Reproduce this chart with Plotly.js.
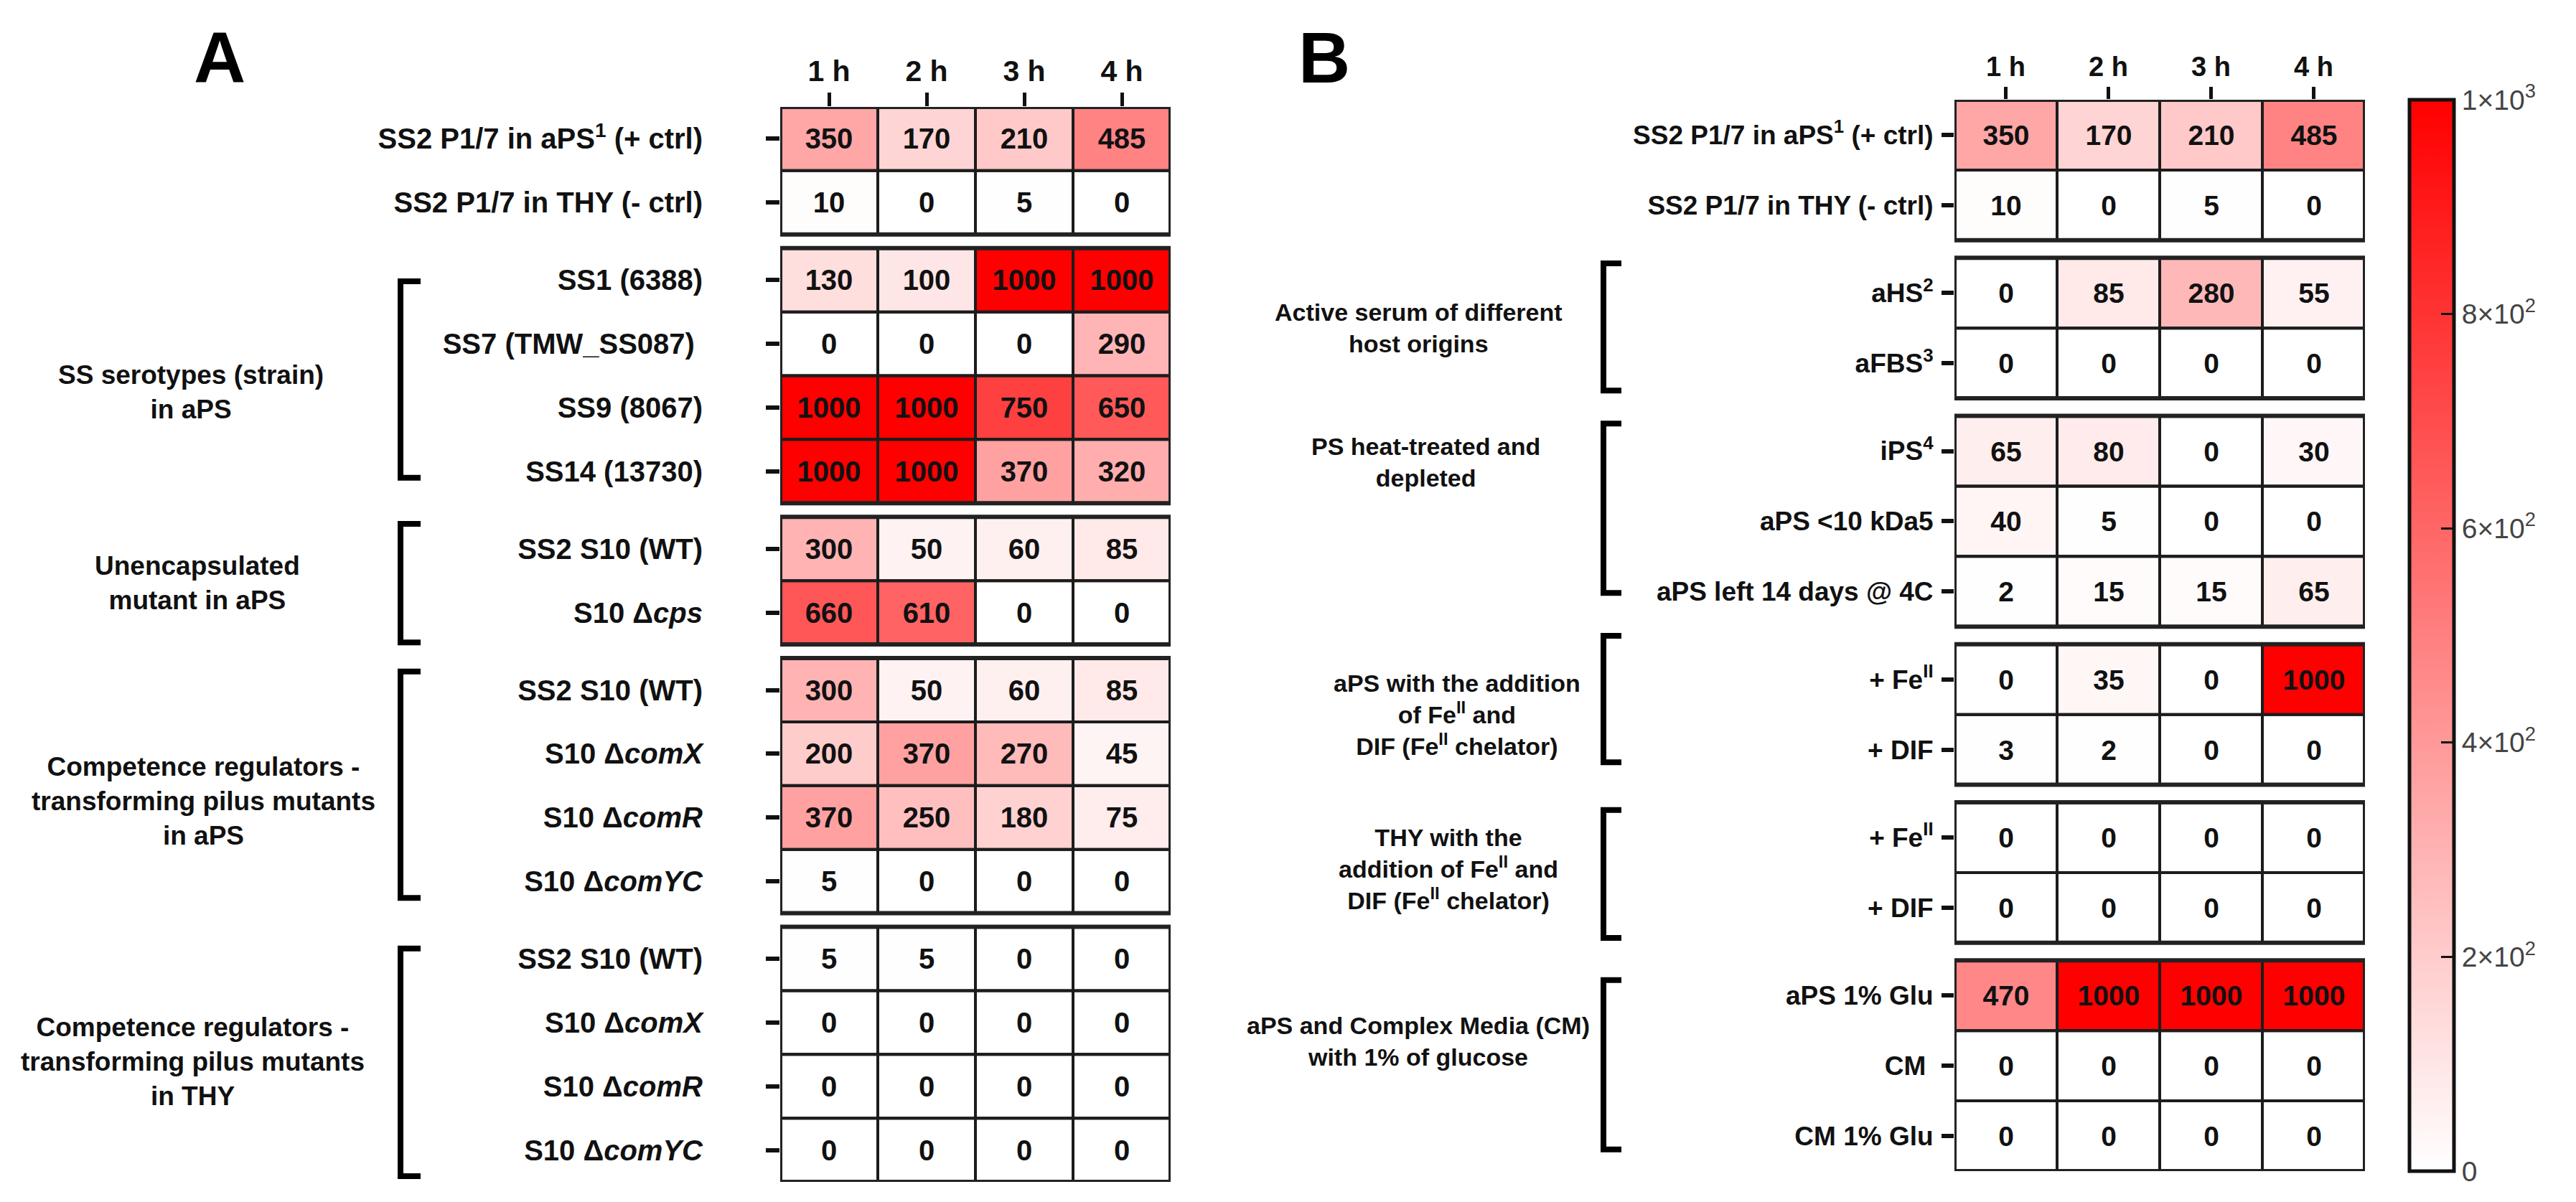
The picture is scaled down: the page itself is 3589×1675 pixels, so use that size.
<!DOCTYPE html>
<html>
<head>
<meta charset="utf-8">
<script src="https://cdn.plot.ly/plotly-3.0.1.min.js"></script>
<style>html,body{margin:0;padding:0;background:#fff;}#chart{width:3589px;height:1675px;}</style>
</head>
<body>
<div id="chart"></div>
<script>
// ---------------- DATA ----------------
const hours = ['1 h', '2 h', '3 h', '4 h'];

const labelsA = [
  'SS2 P1/7 in aPS<sup>1</sup> (+ ctrl)', 'SS2 P1/7 in THY (- ctrl)',
  'SS1 (6388)', 'SS7 (TMW_SS087) ', 'SS9 (8067)', 'SS14 (13730)',
  'SS2 S10 (WT)', 'S10 Δ<i>cps</i>',
  'SS2 S10 (WT)', 'S10 Δ<i>comX</i>', 'S10 Δ<i>comR</i>', 'S10 Δ<i>comYC</i>',
  'SS2 S10 (WT)', 'S10 Δ<i>comX</i>', 'S10 Δ<i>comR</i>', 'S10 Δ<i>comYC</i>'
];
const valuesA = [
  [350, 170, 210, 485],
  [10, 0, 5, 0],
  [130, 100, 1000, 1000],
  [0, 0, 0, 290],
  [1000, 1000, 750, 650],
  [1000, 1000, 370, 320],
  [300, 50, 60, 85],
  [660, 610, 0, 0],
  [300, 50, 60, 85],
  [200, 370, 270, 45],
  [370, 250, 180, 75],
  [5, 0, 0, 0],
  [5, 5, 0, 0],
  [0, 0, 0, 0],
  [0, 0, 0, 0],
  [0, 0, 0, 0]
];
const groupSizesA = [2, 4, 2, 4, 4];
const groupTitlesA = [
  null,
  'SS serotypes (strain)<br>in aPS',
  'Unencapsulated<br>mutant in aPS',
  'Competence regulators -<br>transforming pilus mutants<br>in aPS',
  'Competence regulators -<br>transforming pilus mutants<br>in THY'
];

const labelsB = [
  'SS2 P1/7 in aPS<sup>1</sup> (+ ctrl)', 'SS2 P1/7 in THY (- ctrl)',
  'aHS<sup>2</sup>', 'aFBS<sup>3</sup>',
  'iPS<sup>4</sup>', 'aPS &lt;10 kDa5', 'aPS left 14 days @ 4C',
  '+ Fe<sup>II</sup>', '+ DIF',
  '+ Fe<sup>II</sup>', '+ DIF',
  'aPS 1% Glu', 'CM ', 'CM 1% Glu'
];
const valuesB = [
  [350, 170, 210, 485],
  [10, 0, 5, 0],
  [0, 85, 280, 55],
  [0, 0, 0, 0],
  [65, 80, 0, 30],
  [40, 5, 0, 0],
  [2, 15, 15, 65],
  [0, 35, 0, 1000],
  [3, 2, 0, 0],
  [0, 0, 0, 0],
  [0, 0, 0, 0],
  [470, 1000, 1000, 1000],
  [0, 0, 0, 0],
  [0, 0, 0, 0]
];
const groupSizesB = [2, 2, 3, 2, 2, 3];
const groupTitlesB = [
  null,
  'Active serum of different<br>host origins',
  'PS heat-treated and<br>depleted',
  'aPS with the addition<br>of Fe<sup>II</sup> and<br>DIF (Fe<sup>II</sup> chelator)',
  'THY with the<br>addition of Fe<sup>II</sup> and<br>DIF (Fe<sup>II</sup> chelator)',
  'aPS and Complex Media (CM)<br>with 1% of glucose'
];

const colorTickVals = [0, 200, 400, 600, 800, 1000];
const colorTickText = ['0', '2×10<sup>2</sup>', '4×10<sup>2</sup>', '6×10<sup>2</sup>', '8×10<sup>2</sup>', '1×10<sup>3</sup>'];

// ---------------- LAYOUT (pixels) ----------------
const W = 3589, H = 1675;
const FONT = 'Liberation Sans, Arial, Helvetica, sans-serif';
const px = v => v / W;
const py = v => 1 - v / H;

const panels = [
  {
    name: 'A', xa: 'x', ya: 'y', xKey: 'xaxis', yKey: 'yaxis',
    labels: labelsA, values: valuesA, sizes: groupSizesA, titles: groupTitlesA,
    left: 1087, right: 1631, top: 149, bottom: 1647, gap: 0.215,
    labelSize: 40, cellSize: 40, titleSize: 37, standoff: 80, ticklen: 19,
    bracketX: 558, serifX: 586,
    titleX: [0, 266, 275, 283, 268],
    titleShift: [0, -23, -3, -22, -10],
    bracketInset: [[0, 0], [0.52, 0.4], [0.11, 0.03], [0.21, 0.24], [0.34, 0.09]]
  },
  {
    name: 'B', xa: 'x2', ya: 'y2', xKey: 'xaxis2', yKey: 'yaxis2',
    labels: labelsB, values: valuesB, sizes: groupSizesB, titles: groupTitlesB,
    left: 2723, right: 3295, top: 139, bottom: 1632, gap: 0.25,
    labelSize: 37, cellSize: 39, titleSize: 34, standoff: 4, ticklen: 17,
    bracketX: 2234, serifX: 2259,
    titleX: [0, 1976, 1987, 2030, 2018, 1976],
    titleShift: [0, 0, 82, 0, 5, 34],
    bracketInset: [[0, 0], [0.08, 0.11], [0.11, 0.48], [-0.12, 0.32], [0.11, 0.07], [0.28, 0.31]]
  }
];

const traces = [];
const shapes = [];
const annotations = [];
const layout = {
  width: W, height: H,
  margin: {l: 0, r: 0, t: 0, b: 0},
  paper_bgcolor: '#ffffff', plot_bgcolor: '#ffffff',
  font: {family: FONT, color: '#111111'},
  showlegend: false,
  coloraxis: {
    cmin: 0, cmax: 1000,
    colorscale: [[0, '#ffffff'], [1, '#ff0000']],
    colorbar: {
      x: px(3357), xanchor: 'left', xpad: 0, ypad: 0,
      y: py((139 + 1632) / 2), yanchor: 'middle',
      len: (1632 - 139) / H, lenmode: 'fraction',
      thickness: 62, thicknessmode: 'pixels',
      outlinewidth: 5, outlinecolor: '#111111',
      ticks: 'inside', ticklen: 20, tickwidth: 3, tickcolor: '#111111',
      tickvals: colorTickVals, ticktext: colorTickText,
      tickfont: {family: FONT, size: 39, color: '#444444'}
    }
  }
};

panels.forEach(p => {
  // row centres in data units (rows of height 1, groups separated by a gap)
  const centers = [];
  const groups = [];
  let cursor = 0;
  p.sizes.forEach((n, gi) => {
    const start = cursor;
    for (let i = 0; i < n; i++) { centers.push(cursor + 0.5); cursor += 1; }
    groups.push({start: start, end: cursor});
    if (gi < p.sizes.length - 1) cursor += p.gap;
  });
  const total = cursor;

  // heatmap traces, one per group
  let r = 0;
  groups.forEach((g, gi) => {
    const n = p.sizes[gi];
    traces.push({
      type: 'heatmap', xaxis: p.xa, yaxis: p.ya,
      x: hours,
      y: centers.slice(r, r + n),
      z: p.values.slice(r, r + n),
      coloraxis: 'coloraxis',
      texttemplate: '<b>%{z}</b>',
      textfont: {family: FONT, size: p.cellSize, color: '#111111'},
      hoverinfo: 'skip'
    });
    r += n;
  });

  // cell borders
  centers.forEach(c => {
    hours.forEach((h, j) => {
      shapes.push({type: 'rect', xref: p.xa, yref: p.ya, layer: 'above',
        x0: j - 0.5, x1: j + 0.5, y0: c - 0.5, y1: c + 0.5,
        line: {color: '#1c1c1c', width: 4}});
    });
  });
  // group outlines + brackets + titles
  groups.forEach((g, gi) => {
    shapes.push({type: 'rect', xref: p.xa, yref: p.ya, layer: 'above',
      x0: -0.5, x1: hours.length - 0.5, y0: g.start, y1: g.end,
      line: {color: '#222222', width: 6}});
    if (p.titles[gi]) {
      const y0 = g.start + p.bracketInset[gi][0];
      const y1 = g.end - p.bracketInset[gi][1];
      const bx = px(p.bracketX), sx = px(p.serifX);
      shapes.push({type: 'path', xref: 'paper', yref: p.ya, layer: 'above',
        path: `M ${sx},${y0} L ${bx},${y0} L ${bx},${y1} L ${sx},${y1}`,
        line: {color: '#000000', width: 8}});
      annotations.push({
        xref: 'paper', yref: p.ya, x: px(p.titleX[gi]), y: (g.start + g.end) / 2,
        yshift: p.titleShift[gi],
        text: '<b>' + p.titles[gi] + '</b>', showarrow: false,
        xanchor: 'center', yanchor: 'middle', align: 'center',
        font: {family: FONT, size: p.titleSize, color: '#111111'}
      });
    }
  });

  layout[p.xKey] = {
    domain: [px(p.left), px(p.right)],
    anchor: p.ya, side: 'top',
    range: [-0.5, hours.length - 0.5],
    showgrid: false, zeroline: false, showline: false,
    ticks: 'outside', ticklen: p.ticklen, tickwidth: 5, tickcolor: '#111111',
    tickfont: {family: FONT, size: p.labelSize + 1, color: '#111111', weight: 'bold'},
    fixedrange: true
  };
  layout[p.yKey] = {
    domain: [py(p.bottom), py(p.top)],
    anchor: p.xa,
    range: [total, 0],
    showgrid: false, zeroline: false, showline: false,
    tickvals: centers, ticktext: p.labels,
    ticks: 'outside', ticklen: p.ticklen, tickwidth: 6, tickcolor: '#111111',
    ticklabelstandoff: p.standoff,
    tickfont: {family: FONT, size: p.labelSize, color: '#111111', weight: 'bold'},
    fixedrange: true
  };

  annotations.push({
    xref: 'paper', yref: 'paper',
    x: p.name === 'A' ? px(306) : px(1845), y: py(80),
    text: '<b>' + p.name + '</b>', showarrow: false,
    xanchor: 'center', yanchor: 'middle',
    font: {family: FONT, size: 100, color: '#000000'}
  });
});

layout.shapes = shapes;
layout.annotations = annotations;

Plotly.newPlot('chart', traces, layout, {displayModeBar: false, staticPlot: true});
</script>
</body>
</html>
